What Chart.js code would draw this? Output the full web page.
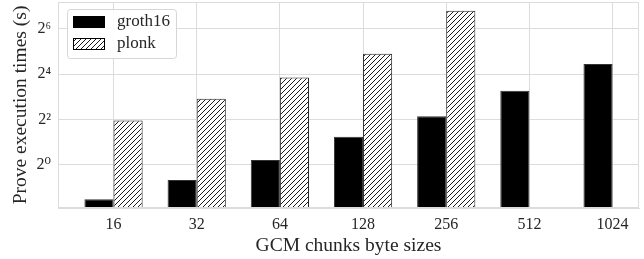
<!DOCTYPE html>
<html>
<head>
<meta charset="utf-8">
<script src="https://cdn.jsdelivr.net/npm/chart.js@4"></script>
<style>
  html, body { margin: 0; padding: 0; background: #fff; }
  #wrap { width: 644px; height: 259px; }
</style>
</head>
<body>
<div id="wrap"><canvas id="proveChart" width="644" height="259"></canvas></div>
<script>
const sizes = ["16", "32", "64", "128", "256", "512", "1024"];
const groth16Times = [0.35, 0.63, 1.16, 2.37, 4.42, 9.7, 22];
const plonkTimes = [3.9, 7.6, 14.5, 30, 112, null, null];
const yTicks = [1, 4, 16, 64];
const yTickLabels = ["2⁰", "2²", "2⁴", "2⁶"];

const serif = "'Liberation Serif', 'DejaVu Serif', serif";
const gridColor = "#dcdcdc";
const textColor = "#262626";

// x range like matplotlib autoscale: empty plonk slots at the end are not counted
const xMin = -0.6675;
const xMax = 6.3175;

function makeHatch() {
  const s = 5;
  const c = document.createElement("canvas");
  c.width = s;
  c.height = s;
  const g = c.getContext("2d");
  g.fillStyle = "#fff";
  g.fillRect(0, 0, s, s);
  g.strokeStyle = "#000";
  g.lineWidth = 0.9;
  g.beginPath();
  g.moveTo(0, s);
  g.lineTo(s, 0);
  g.moveTo(-1, 1);
  g.lineTo(1, -1);
  g.moveTo(s - 1, s + 1);
  g.lineTo(s + 1, s - 1);
  g.stroke();
  return g.createPattern(c, "repeat");
}

const hatch = makeHatch();

// plot frame + legend drawn inside the plot area
const framePlugin = {
  id: "frameLegend",
  afterDraw(chart) {
    const { ctx, chartArea: a } = chart;
    ctx.save();
    ctx.strokeStyle = gridColor;
    ctx.lineWidth = 1;
    ctx.strokeRect(a.left + 0.5, a.top + 0.5, a.right - a.left - 1, a.bottom - a.top - 1);

    const x = 67, y = 9, w = 109, h = 49;
    ctx.fillStyle = "rgba(255,255,255,0.9)";
    ctx.strokeStyle = "#d6d6d6";
    ctx.beginPath();
    ctx.roundRect(x + 0.5, y + 0.5, w, h, 3);
    ctx.fill();
    ctx.stroke();

    ctx.fillStyle = "#000";
    ctx.fillRect(73, 16, 32, 12);
    ctx.fillStyle = hatch;
    ctx.fillRect(73, 38, 32, 12);
    ctx.strokeStyle = "#000";
    ctx.lineWidth = 1;
    ctx.strokeRect(73.5, 38.5, 31, 11);

    ctx.fillStyle = textColor;
    ctx.font = "17px " + serif;
    ctx.textBaseline = "middle";
    ctx.fillText("groth16", 117, 22);
    ctx.fillText("plonk", 117, 44);
    ctx.restore();
  }
};

new Chart(document.getElementById("proveChart"), {
  type: "bar",
  data: {
    labels: sizes,
    datasets: [
      {
        label: "groth16",
        data: groth16Times,
        backgroundColor: "#000",
        borderColor: "#333",
        borderWidth: 1,
        categoryPercentage: 0.7,
        barPercentage: 1.0,
      },
      {
        label: "plonk",
        data: plonkTimes,
        backgroundColor: hatch,
        borderColor: "#222",
        borderWidth: 1,
        categoryPercentage: 0.7,
        barPercentage: 1.0,
      },
    ],
  },
  options: {
    responsive: false,
    animation: false,
    layout: { padding: { top: 2, right: 5, left: 0, bottom: 0 } },
    plugins: {
      legend: { display: false },
      tooltip: { enabled: false },
    },
    scales: {
      x: {
        grid: { color: gridColor, offset: false, drawTicks: false },
        border: { color: gridColor },
        ticks: { color: textColor, font: { family: serif, size: 16 }, padding: 7, maxRotation: 0 },
        title: {
          display: true,
          text: "GCM chunks byte sizes",
          color: textColor,
          font: { family: serif, size: 19.5 },
          padding: { top: 0, bottom: 1 },
        },
        afterBuildTicks(scale) {
          scale._startValue = xMin;
          scale._valueRange = xMax - xMin;
        },
        afterFit(scale) {
          scale.height = 51;
          scale.paddingLeft = 0;
          scale.paddingRight = 0;
        },
      },
      y: {
        type: "logarithmic",
        min: Math.pow(2, -1.9),
        max: Math.pow(2, 7.19),
        grid: { color: gridColor, drawTicks: false },
        border: { color: gridColor },
        afterBuildTicks(scale) {
          scale.ticks = yTicks.map(v => ({ value: v }));
        },
        ticks: {
          color: textColor,
          font: { family: serif, size: 16 },
          padding: 7,
          callback(value) {
            const i = yTicks.indexOf(value);
            return i >= 0 ? yTickLabels[i] : "";
          },
        },
        title: {
          display: true,
          text: "Prove execution times (s)",
          color: textColor,
          font: { family: serif, size: 19.5 },
          padding: { top: 9, bottom: 0 },
        },
        afterFit(scale) {
          scale.width = 58;
          scale.paddingTop = 0;
          scale.paddingBottom = 0;
        },
      },
    },
  },
  plugins: [framePlugin],
});
</script>
</body>
</html>
